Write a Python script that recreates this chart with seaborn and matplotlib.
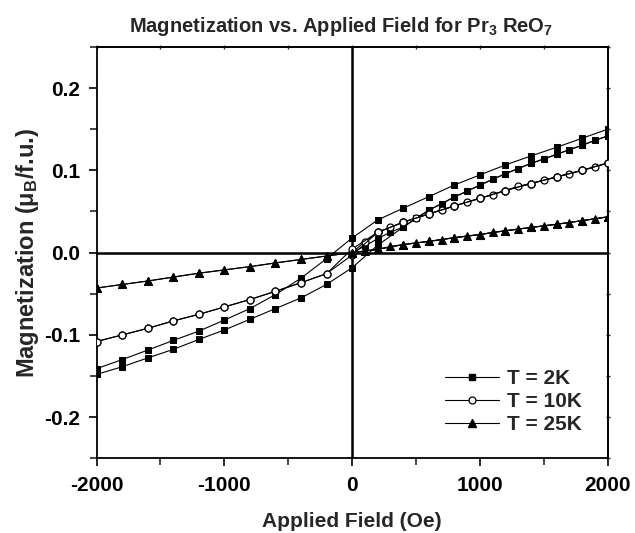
import numpy as np
import pandas as pd
import seaborn as sns
import matplotlib
matplotlib.use("Agg")
import matplotlib.pyplot as plt
from matplotlib.lines import Line2D
from matplotlib.ticker import MultipleLocator, FixedLocator

# ---------------- data ----------------
field_virgin = [0, 100, 200, 300, 400, 500, 600, 700, 800, 900, 1000,
                1100, 1200, 1300, 1400, 1500, 1600, 1700, 1800, 1900, 2000]
field_down = [2000, 1800, 1600, 1400, 1200, 1000, 800, 600, 400, 200, 0,
              -200, -400, -600, -800, -1000, -1200, -1400, -1600, -1800, -2000]
field_up = [-2000, -1800, -1600, -1400, -1200, -1000, -800, -600, -400, -200, 0,
            200, 400, 600, 800, 1000, 1200, 1400, 1600, 1800, 2000]

# T = 2K
m2_virgin = [0.0, 0.008, 0.017, 0.025, 0.031, 0.042, 0.0515, 0.0595, 0.0676, 0.0746, 0.082,
             0.089, 0.096, 0.102, 0.1085, 0.1135, 0.1195, 0.125, 0.1305, 0.1366, 0.1418]
m2_down = [0.150, 0.139, 0.128, 0.1175, 0.1066, 0.0944, 0.0822, 0.068, 0.054, 0.0397, 0.0178,
           -0.0073, -0.031, -0.051, -0.068, -0.082, -0.0954, -0.1067, -0.1185, -0.130, -0.141]
m2_up = [-0.148, -0.1387, -0.128, -0.1176, -0.1055, -0.094, -0.081, -0.068, -0.055, -0.0386, -0.0183,
         0.009, 0.031, 0.0515, 0.0676, 0.082, 0.096, 0.1085, 0.1195, 0.1305, 0.1418]

# T = 10K
m10_virgin = [0.0, 0.0135, 0.0247, 0.0309, 0.037, 0.042, 0.047, 0.052, 0.0567, 0.0616, 0.066,
              0.0705, 0.0755, 0.0807, 0.084, 0.088, 0.092, 0.096, 0.100, 0.104, 0.109]
m10_down = [0.109, 0.100, 0.092, 0.084, 0.0755, 0.066, 0.0567, 0.047, 0.037, 0.0247, 0.0045,
            -0.0255, -0.0365, -0.047, -0.057, -0.066, -0.075, -0.083, -0.092, -0.100, -0.108]
m10_up = [-0.108, -0.100, -0.092, -0.083, -0.075, -0.066, -0.057, -0.047, -0.0365, -0.0255, -0.003,
          0.0247, 0.037, 0.047, 0.0567, 0.066, 0.0755, 0.084, 0.092, 0.100, 0.109]

# T = 25K
m25_virgin = [0.0, 0.002, 0.004, 0.0075, 0.0098, 0.0118, 0.0137, 0.0157, 0.0182, 0.0202, 0.022,
              0.0247, 0.0266, 0.0286, 0.0306, 0.0326, 0.0345, 0.0365, 0.0389, 0.041, 0.0435]
m25_down = [0.0435, 0.0389, 0.0345, 0.0306, 0.0266, 0.022, 0.0182, 0.0137, 0.0098, 0.004, 0.0,
            -0.0041, -0.0083, -0.0125, -0.017, -0.021, -0.0250, -0.0297, -0.0345, -0.0387, -0.0430]
m25_up = [-0.0430, -0.0387, -0.0345, -0.0297, -0.0250, -0.021, -0.017, -0.0125, -0.0083, -0.0041, 0.0,
          0.004, 0.0098, 0.0137, 0.0182, 0.022, 0.0266, 0.0306, 0.0345, 0.0389, 0.0435]

labels = ["T = 2K", "T = 10K", "T = 25K"]
x_ticks = [-2000, -1000, 0, 1000, 2000]
y_ticks = [-0.2, -0.1, 0.0, 0.1, 0.2]
y_ticklabels = ["-0.2", "-0.1", "0.0", "0.1", "0.2"]

# ---------------- style ----------------
sns.set_theme(style="ticks")
plt.rcParams["font.family"] = ["Liberation Sans", "DejaVu Sans"]
plt.rcParams["font.weight"] = "bold"
plt.rcParams["axes.unicode_minus"] = False
plt.rcParams["mathtext.fontset"] = "custom"
plt.rcParams["mathtext.rm"] = "Liberation Sans:bold"
plt.rcParams["mathtext.it"] = "Liberation Sans:bold"
plt.rcParams["mathtext.bf"] = "Liberation Sans:bold"
plt.rcParams["mathtext.default"] = "rm"

fig = plt.figure(figsize=(6.35, 5.33), dpi=100)
ax = fig.add_axes([0.152, 0.140, 0.805, 0.772])

ax.axhline(0, color="black", lw=1.8, zorder=1)
ax.axvline(0, color="black", lw=1.8, zorder=1)

styles = [
    dict(marker="s", markerfacecolor="black", markeredgecolor="black", markersize=4.6),
    dict(marker="o", markerfacecolor="white", markeredgecolor="black", markersize=5.0,
         markeredgewidth=0.9),
    dict(marker="^", markerfacecolor="black", markeredgecolor="black", markersize=5.2),
]

series = [
    (m2_virgin, m2_down, m2_up),
    (m10_virgin, m10_down, m10_up),
    (m25_virgin, m25_down, m25_up),
]

for (mv, md, mu), st in zip(series, styles):
    for fx, my in ((field_virgin, mv), (field_down, md), (field_up, mu)):
        df = pd.DataFrame({"H": fx, "M": my})
        sns.lineplot(data=df, x="H", y="M", sort=False, estimator=None, ax=ax,
                     color="black", linewidth=0.8, zorder=3, **st)

ax.set_xlim(-2000, 2000)
ax.set_ylim(-0.25, 0.25)
ax.xaxis.set_major_locator(FixedLocator(x_ticks))
ax.xaxis.set_minor_locator(MultipleLocator(500))
ax.yaxis.set_major_locator(FixedLocator(y_ticks))
ax.set_yticklabels(y_ticklabels)
ax.yaxis.set_minor_locator(MultipleLocator(0.05))

for s in ax.spines.values():
    s.set_linewidth(1.3)
    s.set_color("black")
    s.set_visible(True)

ax.tick_params(axis="both", which="major", direction="out", length=6, width=1.2,
               labelsize=15, colors="black")
ax.tick_params(axis="x", which="major", pad=7)
ax.tick_params(axis="y", which="major", pad=6)
ax.tick_params(axis="both", which="minor", direction="out", length=5, width=1.2)

ax2 = ax.secondary_xaxis("top")
ax2.set_xticks(x_ticks)
ax2.xaxis.set_minor_locator(MultipleLocator(500))
ax2.tick_params(which="both", direction="inout", length=3, width=1.0, labeltop=False)
ax2.spines["top"].set_linewidth(1.3)
ax3 = ax.secondary_yaxis("right")
ax3.set_yticks(y_ticks)
ax3.yaxis.set_minor_locator(MultipleLocator(0.05))
ax3.tick_params(which="both", direction="inout", length=3, width=1.0, labelright=False)
ax3.spines["right"].set_linewidth(1.3)

for lab in ax.get_xticklabels() + ax.get_yticklabels():
    lab.set_fontweight("bold")

ax.set_xlabel("Applied Field (Oe)", fontsize=15, fontweight="bold", labelpad=12)
ax.set_ylabel("Magnetization (μ$_B$/f.u.)", fontsize=17, fontweight="bold", labelpad=2)
ax.set_title("Magnetization vs. Applied Field for Pr$_3$ ReO$_7$",
             fontsize=14.5, fontweight="bold", pad=11, x=0.478)

handles = [Line2D([0], [0], color="black", linewidth=0.8, **st) for st in styles]
leg = ax.legend(handles, labels, loc="lower right", bbox_to_anchor=(0.965, 0.038),
                frameon=False, fontsize=15, handlelength=2.6, handletextpad=0.35,
                labelspacing=0.2, borderaxespad=0)
for t in leg.get_texts():
    t.set_fontweight("bold")

fig.savefig("out.png", dpi=100)
